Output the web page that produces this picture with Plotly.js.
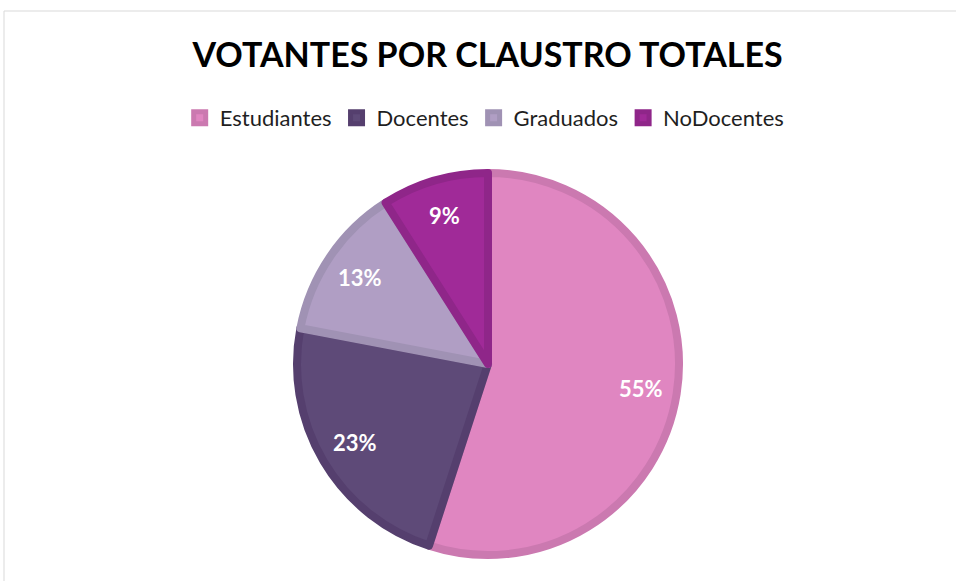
<!DOCTYPE html>
<html>
<head>
<meta charset="utf-8">
<script src="https://cdn.plot.ly/plotly-3.0.1.min.js"></script>
<style>
    html, body { margin: 0; padding: 0; background: #fff; }
    #graph { width: 956px; height: 581px; }
</style>
</head>
<body>
<div id="graph"></div>
<script>
// Datos del gráfico
const claustros = ['Estudiantes', 'Docentes', 'Graduados', 'NoDocentes'];
const porcentajes = [55, 23, 13, 9];
const rellenos = ['#E086C1', '#5E4A78', '#B09EC4', '#A02A98'];
const bordes = ['#CB79B0', '#553F6E', '#A092B4', '#8F2689'];

const W = 956, H = 581;
// centro y radio de la torta en píxeles
const cx = 488, cy = 364, r = 191;
const fuente = 'Lato, "Open Sans", sans-serif';

// Etiquetas de porcentaje ubicadas como en Excel (a ~80% del radio)
const total = porcentajes.reduce((a, b) => a + b, 0);
let acumulado = 0;
const etiquetas = porcentajes.map(v => {
    const medio = (acumulado + v / 2) / total * 2 * Math.PI;
    acumulado += v;
    const d = 0.81 * r;
    const px = cx + d * Math.sin(medio);
    const py = cy - d * Math.cos(medio);
    return {
        xref: 'paper', yref: 'paper',
        x: px / W, y: 1 - py / H,
        xanchor: 'center', yanchor: 'middle',
        showarrow: false,
        text: '<b>' + Math.round(v / total * 100) + '%</b>',
        font: { family: fuente, size: 22, color: '#ffffff' }
    };
});

const trace = {
    type: 'pie',
    labels: claustros,
    values: porcentajes,
    sort: false,
    direction: 'clockwise',
    rotation: 0,
    marker: {
        colors: rellenos,
        line: { color: bordes, width: 8 }
    },
    textinfo: 'none',
    hoverinfo: 'label+percent',
    domain: {
        x: [(cx - r) / W, (cx + r) / W],
        y: [(H - cy - r) / H, (H - cy + r) / H]
    }
};

const layout = {
    width: W,
    height: H,
    margin: { l: 0, r: 0, t: 0, b: 0 },
    paper_bgcolor: '#ffffff',
    font: { family: fuente, color: '#1F1F1F' },
    title: {
        text: '<b>VOTANTES POR CLAUSTRO TOTALES</b>',
        font: { family: fuente, size: 34, color: '#000000' },
        x: 0.51,
        xanchor: 'center',
        y: 1 - 55 / H,
        yanchor: 'middle'
    },
    showlegend: true,
    legend: {
        orientation: 'h',
        x: 0.507,
        xanchor: 'center',
        y: 1 - 118 / H,
        yanchor: 'middle',
        font: { size: 22, color: '#1F1F1F' },
        itemwidth: 30,
        traceorder: 'normal'
    },
    annotations: etiquetas,
    // borde gris del área del gráfico
    shapes: [{
        type: 'rect',
        xref: 'paper', yref: 'paper',
        x0: 4 / W, x1: 1.05,
        y0: -0.05, y1: 1 - 11 / H,
        line: { color: '#D9D9D9', width: 1 },
        fillcolor: 'rgba(0,0,0,0)',
        layer: 'below'
    }]
};

Plotly.newPlot('graph', [trace], layout, { displayModeBar: false, staticPlot: true });
</script>
</body>
</html>
